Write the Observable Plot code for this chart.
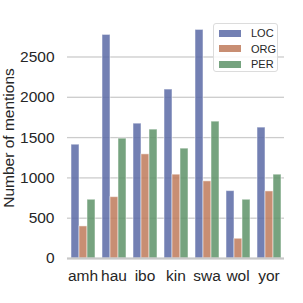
<!DOCTYPE html>
<html>
<head>
<meta charset="utf-8">
<script src="https://cdn.jsdelivr.net/npm/d3@7"></script>
<script src="https://cdn.jsdelivr.net/npm/@observablehq/plot@0.6"></script>
<style>
  html, body { margin: 0; padding: 0; background: #fff; }
  #wrap { position: relative; width: 303px; height: 303px; font-family: "Liberation Sans", Arial, sans-serif; }
  #legend { position: absolute; left: 213px; top: 23px; width: 65px; height: 49px; border: 1px solid #dcdcdc; border-radius: 3px; background: rgba(255,255,255,0.85); box-sizing: border-box; }
  .row { position: absolute; left: 0; height: 14px; display: flex; align-items: center; }
  .sw { width: 22px; height: 7px; margin-left: 5px; margin-right: 10px; }
  .lab { font-size: 11px; color: #262626; }
</style>
</head>
<body>
<div id="wrap"></div>
<script>
const categories = ["amh", "hau", "ibo", "kin", "swa", "wol", "yor"];
const series = ["LOC", "ORG", "PER"];
const LOC = [1412, 2774, 1673, 2096, 2836, 836, 1624];
const ORG = [398, 761, 1292, 1040, 957, 245, 832];
const PER = [729, 1487, 1599, 1363, 1698, 729, 1040];
const yTicks = [0, 500, 1000, 1500, 2000, 2500];
const colors = ["#5a6aa6", "#be7a5b", "#5e9368"];

const values = {LOC, ORG, PER};
const data = [];
categories.forEach((c, i) => series.forEach(s => data.push({lang: c, type: s, value: values[s][i]})));

const plot = Plot.plot({
  width: 303,
  height: 303,
  marginLeft: 65,
  marginRight: 18,
  marginTop: 17,
  marginBottom: 45,
  style: {fontSize: "15.5px", fontFamily: "Liberation Sans, Arial, sans-serif", color: "#262626", background: "transparent"},
  fx: {domain: categories, padding: 0, tickSize: 0, tickPadding: 11, label: null, axis: "bottom"},
  x: {domain: series, paddingInner: 0, paddingOuter: 0.375, axis: null},
  y: {domain: [0, 2990], ticks: yTicks, tickFormat: "d", tickSize: 0, tickPadding: 13, label: null},
  color: {domain: series, range: colors},
  marks: [
    Plot.ruleY(yTicks.slice(1), {stroke: "#cccccc", strokeWidth: 1.3}),
    Plot.barY(data, {fx: "lang", x: "type", y: "value", fill: "type", fillOpacity: 0.85, stroke: "#ffffff", strokeOpacity: 0.5, strokeWidth: 1}),
    Plot.ruleY([0], {stroke: "#c8c8c8", strokeWidth: 2.2}),
    Plot.text([{lang: categories[0], t: "Number of mentions"}], {fx: "lang", text: "t", frameAnchor: "left", textAnchor: "middle", dx: -58, rotate: -90, fontSize: 15.5, fill: "#262626"})
  ]
});
const wrap = document.getElementById("wrap");
wrap.appendChild(plot);

const legend = document.createElement("div");
legend.id = "legend";
series.forEach((s, i) => {
  const row = document.createElement("div");
  row.className = "row";
  row.style.top = (2 + i * 15.5) + "px";
  const sw = document.createElement("div");
  sw.className = "sw";
  sw.style.background = colors[i];
  sw.style.opacity = 0.85;
  const lab = document.createElement("span");
  lab.className = "lab";
  lab.textContent = s;
  row.appendChild(sw);
  row.appendChild(lab);
  legend.appendChild(row);
});
wrap.appendChild(legend);
</script>
</body>
</html>
